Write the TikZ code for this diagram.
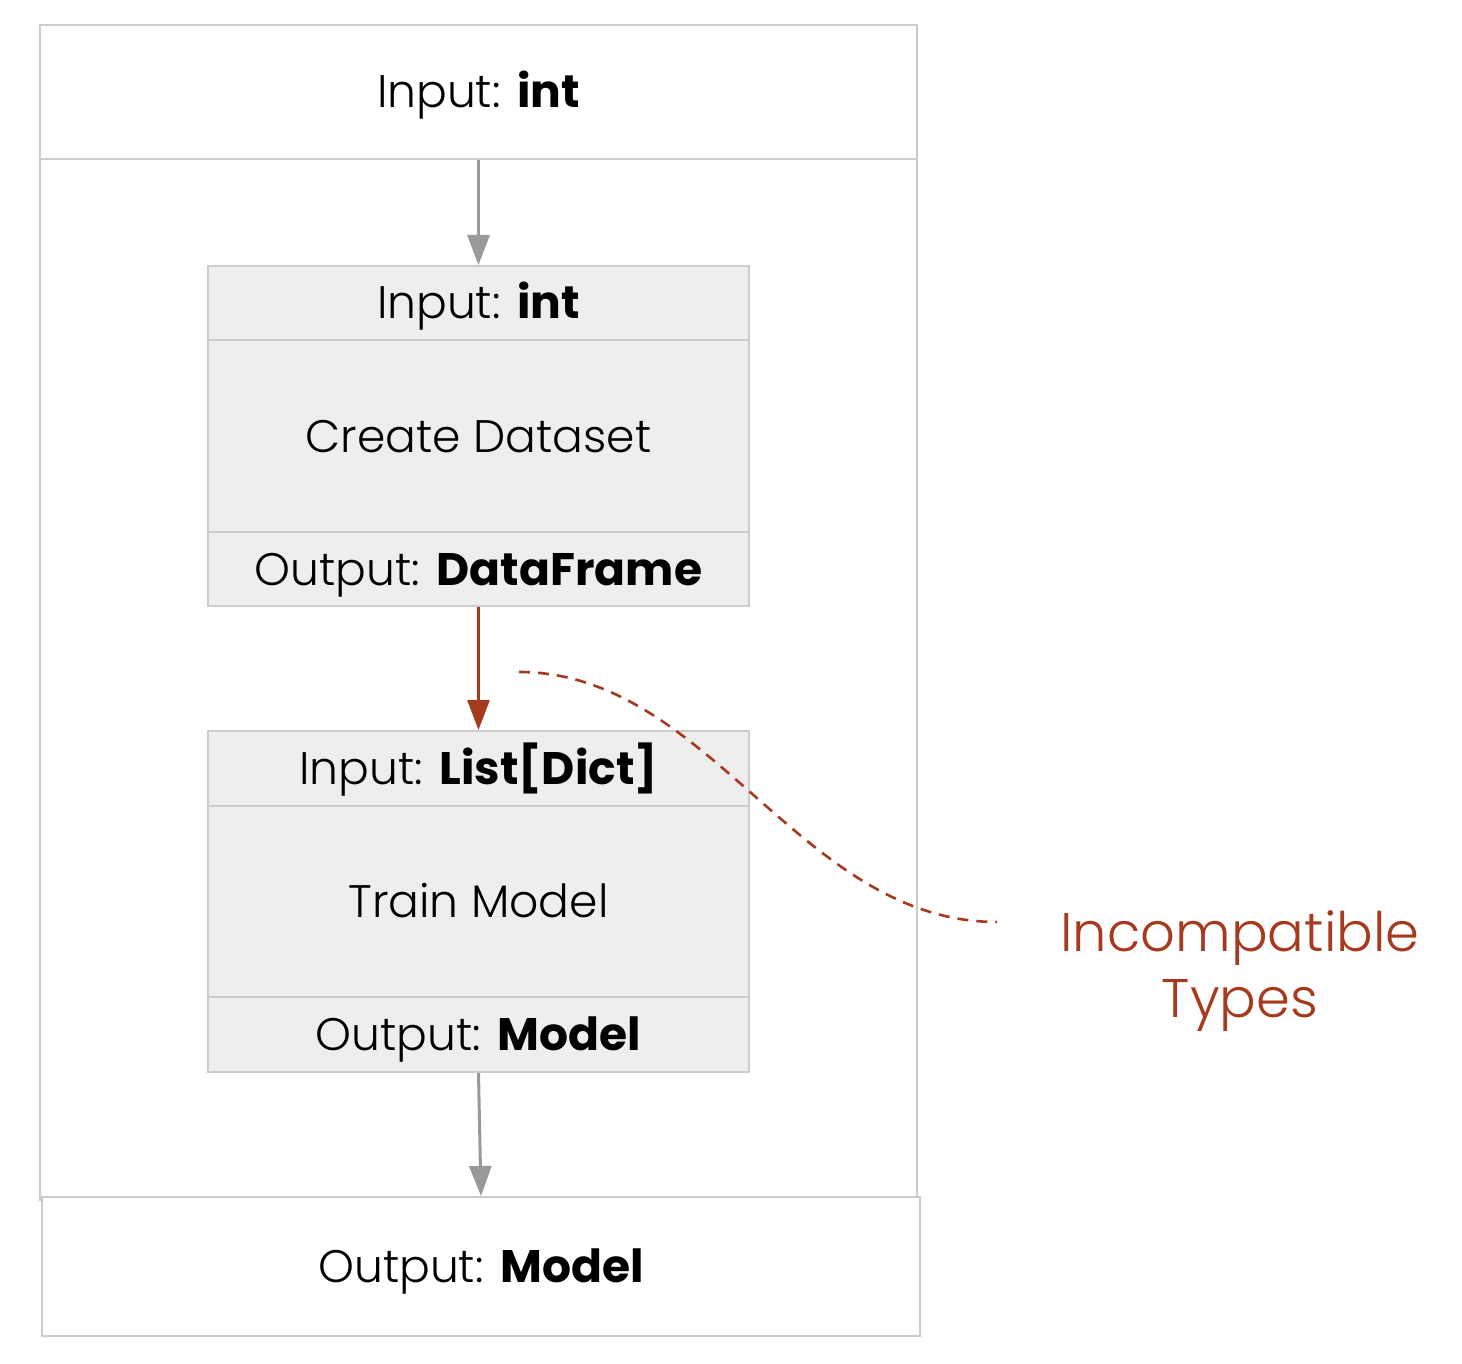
\documentclass[tikz,border=0pt]{standalone}
\usepackage{fontspec}
\setmainfont{Poppins}[UprightFont=* Light, BoldFont=* Bold]
\usetikzlibrary{arrows.meta}
\definecolor{boxline}{HTML}{CCCCCC}
\definecolor{boxfill}{HTML}{EEEEEE}
\definecolor{arrgray}{HTML}{999999}
\definecolor{errred}{HTML}{A63A1E}
\tikzset{
  txt/.style={font=\fontsize{22.8}{27}\selectfont, text height=16pt, text depth=0pt},
  outerbox/.style={draw=boxline, line width=1pt, fill=white, inner sep=0pt, minimum width=438.5pt, txt},
  part/.style={draw=boxline, line width=1pt, fill=boxfill, inner sep=0pt, minimum width=270.5pt, txt},
  flow/.style={draw=arrgray, line width=1.5pt, -{Triangle[length=15pt,width=11pt]}},
  badflow/.style={draw=errred, line width=1.5pt, -{Triangle[length=15pt,width=11pt]}},
  note/.style={draw=errred, line width=1.3pt, dash pattern=on 5.5pt off 4pt},
}
\begin{document}
\begin{tikzpicture}[x=0.5pt, y=-0.5pt]
\useasboundingbox (0,0) rectangle (1462,1364);
% outer frame
\node[outerbox, minimum height=520.5pt] (main) at (478.5,679.5) {};
\node[outerbox, minimum height=67pt] (top) at (478.5,92) {Input: \textbf{int}};
\node[outerbox, minimum width=439pt, minimum height=69.5pt] (bottom) at (481,1266.5) {Output: \textbf{Model}};
% box 1
\node[part, minimum height=37pt] (b1h) at (478.5,303) {Input: \textbf{int}};
\node[part, minimum height=96pt] (b1b) at (478.5,436) {Create Dataset};
\node[part, minimum height=37pt] (b1f) at (478.5,569) {Output: \textbf{DataFrame}};
% box 2
\node[part, minimum height=37.5pt] (b2h) at (478.5,768.5) {Input: \textbf{List[Dict]}};
\node[part, minimum height=95.5pt] (b2b) at (478.5,901.5) {Train Model};
\node[part, minimum height=37.5pt] (b2f) at (478.5,1034.5) {Output: \textbf{Model}};
% arrows
\draw[flow] (top.south) -- (b1h.north);
\draw[badflow] (b1f.south) -- (b2h.north);
\draw[flow] (b2f.south) -- (bottom.north);
% annotation
\coordinate (ns) at (519,672);
\coordinate (ne) at (997,922);
\node[text=errred, align=center, inner sep=0pt, anchor=base, font=\fontsize{27.2}{33}\selectfont] (lbl) at (1240,1017) {Incompatible\\Types};
\draw[note] (ns) .. controls (710,672) and (800,922) .. (ne);
\end{tikzpicture}
\end{document}
